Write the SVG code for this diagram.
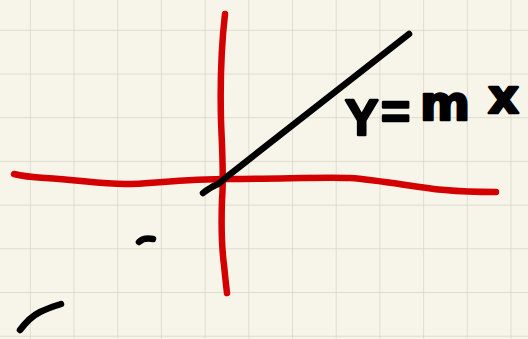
<svg xmlns="http://www.w3.org/2000/svg" width="528" height="339" viewBox="0 0 528 339">
  <defs>
    <pattern id="grid" x="-12.9" y="-12.9" width="43.7" height="43.7" patternUnits="userSpaceOnUse">
      <path d="M43.7 0 V43.7 M0 43.7 H43.7" fill="none" stroke="#d6d4c6" stroke-width="1.4"/>
    </pattern>
  </defs>
  <style>
    .axis { fill: none; stroke: #d40000; stroke-width: 6.5; stroke-linecap: round; stroke-linejoin: round; }
    .ink { fill: none; stroke: #000; stroke-width: 6.5; stroke-linecap: round; stroke-linejoin: round; }
    .label { font-family: "Liberation Sans", Arial, sans-serif; font-size: 50px; font-weight: bold; fill: #000; stroke: #000; stroke-width: 2.5; stroke-linejoin: round; }
    .wide { font-family: "DejaVu Sans", sans-serif; font-size: 48px; }
  </style>
  <rect width="528" height="339" fill="#f7f5e9"/>
  <rect width="528" height="339" fill="url(#grid)"/>
  <g id="axes">
    <path class="axis" d="M14 174 C 22 176, 30 177, 45 178 C 80 180, 100 184, 125 184 C 150 184, 180 179, 230 179 C 280 179, 320 177, 350 178 C 380 180, 420 188, 445 190 C 465 192, 480 192, 496 192"/>
    <path class="axis" d="M225 14 C 222 40, 220 80, 221 120 C 222 150, 224 175, 222 200 C 221 230, 222 250, 224 265 C 225 275, 226 285, 227 293"/>
  </g>
  <g id="connectors">
    <path class="ink" d="M203 193 C 207 190, 211 187, 216 185 C 219 184, 221 182, 224 179 L 409 34"/>
    <path class="ink" d="M139 242 C 142 239, 147 238, 153 239"/>
    <path class="ink" d="M20 330 C 26 322, 32 316, 40 312 C 48 308, 55 306, 61 304"/>
  </g>
  <g id="label">
    <text class="label"><tspan x="345" y="135">Y</tspan><tspan x="381" y="129">=</tspan><tspan class="wide" x="420" y="120">m</tspan><tspan class="wide" x="488" y="113">x</tspan></text>
  </g>
</svg>
